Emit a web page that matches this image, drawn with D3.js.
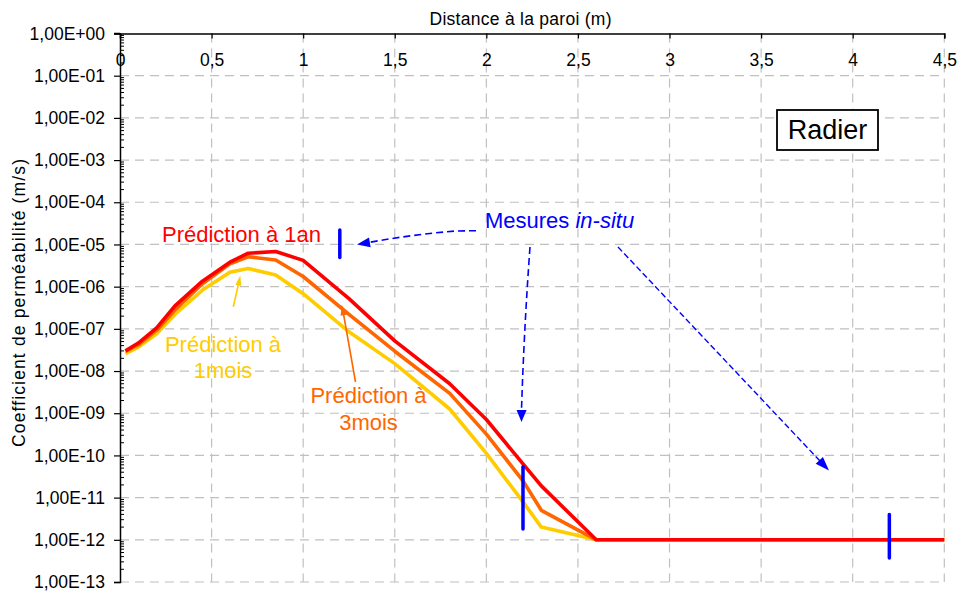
<!DOCTYPE html>
<html><head><meta charset="utf-8">
<script src="https://cdn.jsdelivr.net/npm/d3@7"></script>
<style>
html,body{margin:0;padding:0;background:#fff;}
svg{display:block;font-family:"Liberation Sans",Arial,Helvetica,sans-serif;}
</style></head>
<body>
<svg id="chart" width="961" height="591"></svg>
<script>
// ---- data ----
const distance = [0.03, 0.1, 0.2, 0.3, 0.45, 0.6, 0.7, 0.85, 1.0, 1.25, 1.5, 1.8, 2.0, 2.2, 2.3, 2.6, 4.5];
const pred1an = [3.0e-8, 4.6e-8, 1.05e-7, 3.5e-7, 1.35e-6, 3.8e-6, 6.2e-6, 6.8e-6, 4.2e-6, 5.2e-7, 5.2e-8, 5.0e-9, 7.1e-10, 6.3e-11, 1.9e-11, 1e-12, 1e-12];
const pred3mois = [2.9e-8, 4.2e-8, 9.3e-8, 2.8e-7, 1.17e-6, 3.5e-6, 5.1e-6, 4.3e-6, 1.74e-6, 2.2e-7, 2.95e-8, 2.95e-9, 3.2e-10, 2.5e-11, 5.0e-12, 1e-12, 1e-12];
const pred1mois = [2.6e-8, 3.7e-8, 7.6e-8, 2.2e-7, 8.3e-7, 2.2e-6, 2.7e-6, 1.9e-6, 6.8e-7, 8.5e-8, 1.5e-8, 1.26e-9, 1.12e-10, 7.9e-12, 2.0e-12, 1e-12, 1e-12];
const mesureX = [1.2, 2.2, 4.2];
const mesureLow = [4.9e-6, 1.8e-12, 3.7e-13];
const mesureHigh = [2.2e-5, 5.4e-11, 4.0e-12];
const xTicks = [0, 0.5, 1, 1.5, 2, 2.5, 3, 3.5, 4, 4.5];
const xTickLabels = ["0", "0,5", "1", "1,5", "2", "2,5", "3", "3,5", "4", "4,5"];
const yTickExp = [0, -1, -2, -3, -4, -5, -6, -7, -8, -9, -10, -11, -12, -13];
const yTickLabels = ["1,00E+00","1,00E-01","1,00E-02","1,00E-03","1,00E-04","1,00E-05","1,00E-06","1,00E-07","1,00E-08","1,00E-09","1,00E-10","1,00E-11","1,00E-12","1,00E-13"];

// ---- layout ----
const L = 120, R = 944.3, T = 33.5, B = 582;
const svg = d3.select("#chart");
const x = d3.scaleLinear().domain([0, 4.5]).range([L, R]);
const y = d3.scaleLog().domain([1e-13, 1]).range([B, T]);

// grid
const grid = svg.append("g").attr("stroke", "#c0c0c0").attr("stroke-width", 1.2).attr("stroke-dasharray", "9,6");
grid.selectAll("line.v").data(xTicks.slice(1)).enter().append("line")
  .attr("x1", d => x(d)).attr("x2", d => x(d)).attr("y1", T).attr("y2", B);
grid.selectAll("line.h").data(yTickExp.slice(1)).enter().append("line")
  .attr("x1", L).attr("x2", R).attr("y1", d => y(Math.pow(10, d))).attr("y2", d => y(Math.pow(10, d)));

// axes
const yAxis = d3.axisLeft(y).tickValues(yTickExp.map(e => Math.pow(10, e)))
  .tickFormat((d, i) => yTickLabels[i]).tickSize(6).tickPadding(9);
const gy = svg.append("g").attr("transform", `translate(${L},0)`).call(yAxis);
gy.select(".domain").attr("stroke", "#000").attr("stroke-width", 1.5);
gy.selectAll(".tick line").attr("stroke", "#000").attr("stroke-width", 1.2);
gy.selectAll(".tick text").attr("font-size", "17.5px").attr("fill", "#000").attr("font-family", "Liberation Sans, Arial, sans-serif");
// minor ticks (inward)
const minor = [];
for (let e = -13; e < 0; e++) for (let m = 2; m <= 9; m++) minor.push(m * Math.pow(10, e));
svg.append("g").selectAll("line").data(minor).enter().append("line")
  .attr("x1", L).attr("x2", L + 4).attr("y1", d => y(d)).attr("y2", d => y(d))
  .attr("stroke", "#000").attr("stroke-width", 1);

const xAxis = d3.axisTop(x).tickValues(xTicks).tickFormat((d, i) => xTickLabels[i]).tickSize(-5).tickPadding(0);
const gx = svg.append("g").attr("transform", `translate(0,${T})`).call(xAxis);
gx.select(".domain").attr("stroke", "#000").attr("stroke-width", 1.5);
gx.selectAll(".tick line").attr("stroke", "#000").attr("stroke-width", 1.2);
gx.selectAll(".tick text").attr("font-size", "17.5px").attr("fill", "#000")
  .attr("font-family", "Liberation Sans, Arial, sans-serif").attr("dy", 0).attr("y", 32);
// extend top axis to the left major tick
svg.append("line").attr("x1", L - 6).attr("x2", L).attr("y1", T).attr("y2", T).attr("stroke", "#000").attr("stroke-width", 1.5);

// titles
svg.append("text").attr("x", 520.5).attr("y", 25).attr("text-anchor", "middle")
  .attr("font-size", "17.5px").attr("textLength", 182).attr("lengthAdjust", "spacing")
  .text("Distance à la paroi (m)");
svg.append("text").attr("transform", "translate(25,303) rotate(-90)").attr("text-anchor", "middle")
  .attr("font-size", "17.5px").attr("textLength", 288).attr("lengthAdjust", "spacing")
  .text("Coefficient de perméabilité (m/s)");

// series
const line = d3.line().x(d => x(d[0])).y(d => y(d[1]));
const series = [
  {vals: pred1mois, color: "#ffcc00"},
  {vals: pred3mois, color: "#ff6600"},
  {vals: pred1an, color: "#ff0000"}
];
series.forEach(s => {
  svg.append("path").datum(distance.map((d, i) => [d, s.vals[i]]))
    .attr("d", line).attr("fill", "none").attr("stroke", s.color)
    .attr("stroke-width", 3.6).attr("stroke-linejoin", "round");
});

// measurement bars
svg.append("g").selectAll("line").data(mesureX).enter().append("line")
  .attr("x1", d => x(d)).attr("x2", d => x(d))
  .attr("y1", (d, i) => y(mesureHigh[i])).attr("y2", (d, i) => y(mesureLow[i]))
  .attr("stroke", "#0000ff").attr("stroke-width", 3.5).attr("stroke-linecap", "round");

// arrow helper
function arrowHead(tipX, tipY, fromX, fromY, len, wid, color) {
  const a = Math.atan2(tipY - fromY, tipX - fromX);
  const bx = tipX - len * Math.cos(a), by = tipY - len * Math.sin(a);
  const px = -Math.sin(a) * wid / 2, py = Math.cos(a) * wid / 2;
  svg.append("path").attr("d", `M${tipX},${tipY}L${bx + px},${by + py}L${bx - px},${by - py}Z`).attr("fill", color);
  return [bx, by];
}

// blue dashed arrows
const blue = "#0000ff";
svg.append("path").attr("d", "M476,230.7 L456,231 Q412,234.5 368,242.6")
  .attr("fill", "none").attr("stroke", blue).attr("stroke-width", 1.6).attr("stroke-dasharray", "7,4");
arrowHead(357, 244.5, 372, 242, 13, 10, blue);
svg.append("path").attr("d", "M530,247 Q524,330 521.5,410")
  .attr("fill", "none").attr("stroke", blue).attr("stroke-width", 1.6).attr("stroke-dasharray", "7,4");
arrowHead(521.5, 422, 521.6, 408, 12, 10, blue);
svg.append("path").attr("d", "M618,247 L820,461")
  .attr("fill", "none").attr("stroke", blue).attr("stroke-width", 1.4).attr("stroke-dasharray", "6,3");
arrowHead(829, 470.5, 818, 459, 14, 10, blue);

// thin annotation arrows
svg.append("line").attr("x1", 233.3).attr("y1", 306.7).attr("x2", 238.5).attr("y2", 284)
  .attr("stroke", "#ffcc00").attr("stroke-width", 1.6);
arrowHead(240.3, 275.5, 237.8, 288, 10, 6, "#ffcc00");
svg.append("line").attr("x1", 355.5).attr("y1", 382).attr("x2", 343.5).attr("y2", 314)
  .attr("stroke", "#ff6600").attr("stroke-width", 1.6);
arrowHead(341.7, 304.5, 344, 318, 11, 6, "#ff6600");

// annotation texts
svg.append("text").attr("x", 162).attr("y", 241.7).attr("font-size", "22px").attr("fill", "#ff0000").text("Prédiction à 1an");
const t1 = svg.append("text").attr("text-anchor", "middle").attr("font-size", "22px").attr("fill", "#ffcc00");
t1.append("tspan").attr("x", 223).attr("y", 351.7).text("Prédiction à");
t1.append("tspan").attr("x", 223).attr("y", 378.3).text("1mois");
const t3 = svg.append("text").attr("text-anchor", "middle").attr("font-size", "22px").attr("fill", "#ff6600");
t3.append("tspan").attr("x", 368.5).attr("y", 403.3).text("Prédiction à");
t3.append("tspan").attr("x", 368.5).attr("y", 430).text("3mois");
const tm = svg.append("text").attr("x", 485).attr("y", 228.3).attr("font-size", "22px").attr("fill", blue);
tm.append("tspan").text("Mesures ");
tm.append("tspan").attr("font-style", "italic").text("in-situ");

// Radier box
svg.append("rect").attr("x", 777).attr("y", 110).attr("width", 101).attr("height", 40)
  .attr("fill", "#fff").attr("stroke", "#000").attr("stroke-width", 1.8);
svg.append("text").attr("x", 827.5).attr("y", 138.5).attr("text-anchor", "middle")
  .attr("font-size", "27px").attr("fill", "#000").text("Radier");
</script>
</body></html>
